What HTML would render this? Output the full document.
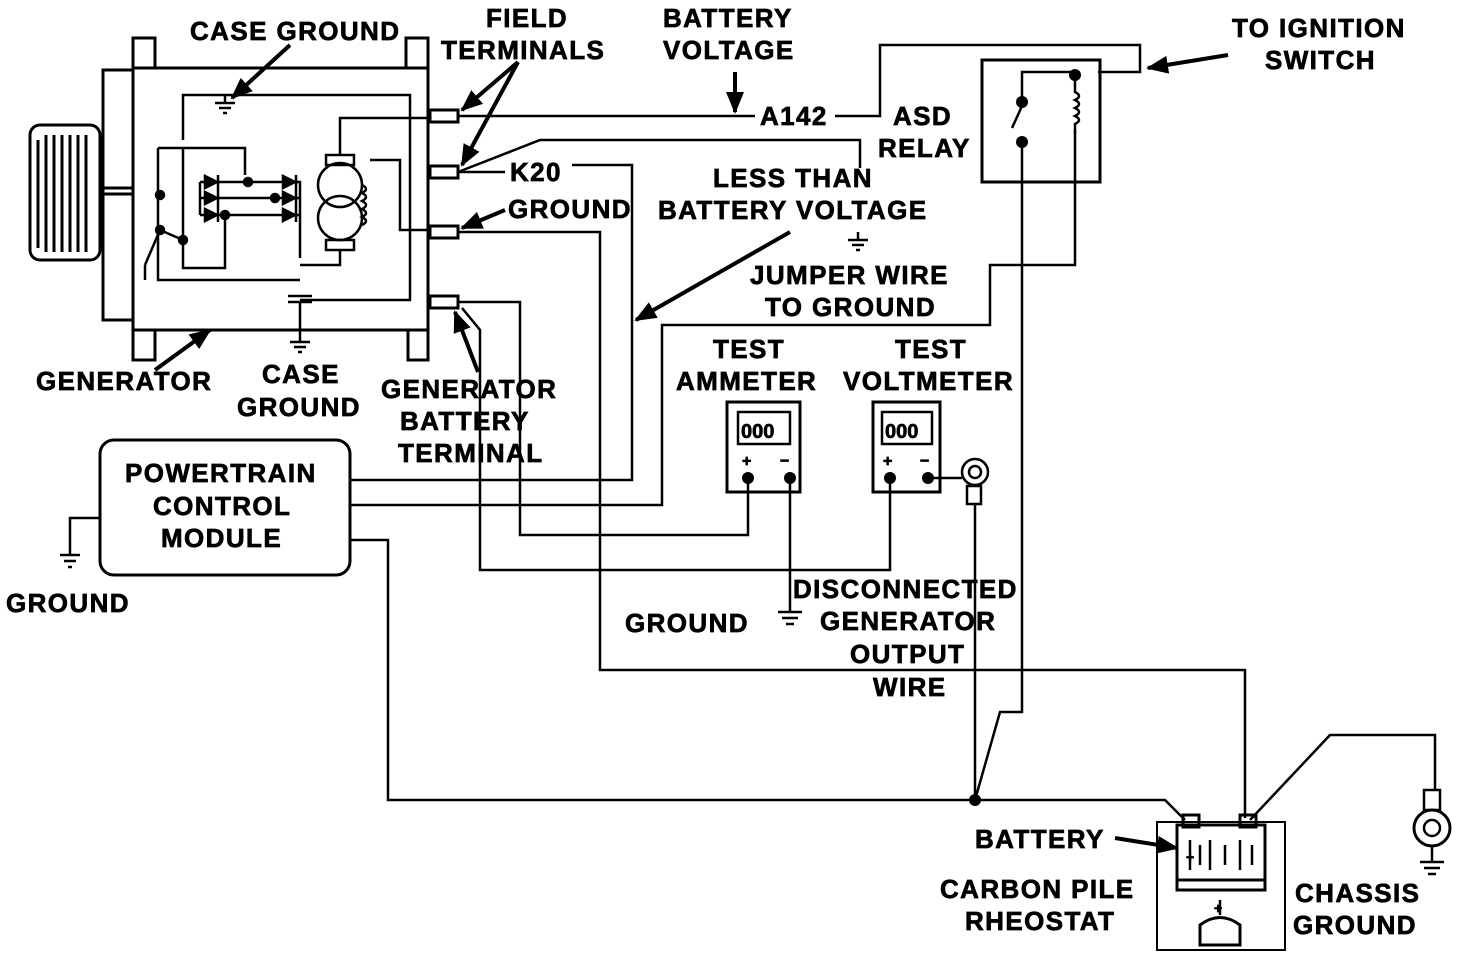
<!DOCTYPE html>
<html><head><meta charset="utf-8"><style>
html,body{margin:0;padding:0;background:#fff}
svg{display:block}
text{font-family:"Liberation Sans",sans-serif;font-weight:bold;font-size:26px;fill:#000;letter-spacing:1.4px;stroke:#000;stroke-width:0.7px}
</style></head><body>
<svg width="1472" height="958" viewBox="0 0 1472 958" xmlns="http://www.w3.org/2000/svg">
<defs>
<marker id="ab" markerWidth="22" markerHeight="18" refX="20" refY="9" orient="auto" markerUnits="userSpaceOnUse" viewBox="0 0 22 18">
<path d="M0,0 L22,9 L0,18 z" fill="#000"/></marker>
</defs>
<g fill="none" stroke="#000" stroke-width="2.5">
<rect x="30" y="125" width="70" height="135" rx="10" stroke-width="3"/>
<g stroke-width="3">
<line x1="38" y1="140" x2="38" y2="248"/><line x1="46" y1="135" x2="46" y2="252"/><line x1="54" y1="135" x2="54" y2="252"/><line x1="62" y1="135" x2="62" y2="252"/><line x1="70" y1="135" x2="70" y2="252"/><line x1="78" y1="135" x2="78" y2="252"/><line x1="86" y1="135" x2="86" y2="252"/>
</g>
<line x1="100" y1="188" x2="133" y2="188" stroke-width="3"/>
<line x1="100" y1="194" x2="133" y2="194" stroke-width="3"/>
<rect x="103" y="70" width="30" height="250" stroke-width="3"/>
<rect x="133" y="68" width="295" height="262" stroke-width="3"/>
<rect x="133" y="38" width="22" height="30" stroke-width="3"/>
<rect x="406" y="38" width="22" height="30" stroke-width="3"/>
<rect x="133" y="330" width="22" height="30" stroke-width="3"/>
<rect x="408" y="330" width="20" height="30" stroke-width="3"/>
<polyline points="183,140 183,95 410,95 410,300 300,300"/>
<polyline points="158,148 158,225 158,280 300,280"/>
<polyline points="158,148 245,148 245,175"/>
<polyline points="183,148 183,268 225,268 225,215"/>
<polyline points="200,182 300,182 300,258"/>
<polyline points="200,198 300,198"/>
<polyline points="200,215 300,215"/>
<polyline points="200,182 200,215"/>
<line x1="145" y1="265" x2="160" y2="230"/>
<line x1="160" y1="230" x2="183" y2="240"/>
<line x1="145" y1="265" x2="145" y2="280"/>
<circle cx="160" cy="230" r="4" fill="#000"/>
<circle cx="183" cy="240" r="4" fill="#000"/>
<circle cx="160" cy="195" r="4" fill="#000"/>
<circle cx="248" cy="182" r="4" fill="#000"/><circle cx="275" cy="198" r="4" fill="#000"/><circle cx="225" cy="215" r="4" fill="#000"/>
<g fill="#000">
<path d="M205,176 L217,182 L205,188 z"/><path d="M205,192 L217,198 L205,204 z"/><path d="M205,209 L217,215 L205,221 z"/>
<path d="M283,176 L295,182 L283,188 z"/><path d="M283,192 L295,198 L283,204 z"/><path d="M283,209 L295,215 L283,221 z"/>
</g>
<line x1="218" y1="175" x2="218" y2="222" /><line x1="296" y1="175" x2="296" y2="222"/>
<circle cx="340" cy="185" r="22"/><circle cx="340" cy="218" r="22"/>
<rect x="326" y="155" width="28" height="10"/><rect x="326" y="240" width="28" height="10"/>
<path d="M362,185 q8,4 0,8 q8,4 0,8 q8,4 0,8 q8,4 0,8 q8,4 0,8"/>
<polyline points="340,155 340,118 430,118"/>
<polyline points="370,160 400,160 400,230 430,230"/>
<polyline points="340,250 340,265 300,265"/>
<line x1="288" y1="296" x2="312" y2="296"/><line x1="288" y1="302" x2="312" y2="302"/>
<line x1="300" y1="302" x2="300" y2="342"/>
<line x1="290" y1="342" x2="310" y2="342"/><line x1="294" y1="347" x2="306" y2="347"/><line x1="298" y1="352" x2="302" y2="352"/>
<polyline points="225,95 225,103"/><line x1="215" y1="103" x2="235" y2="103"/><line x1="219" y1="108" x2="231" y2="108"/><line x1="223" y1="113" x2="227" y2="113"/>
<rect x="430" y="110" width="28" height="12" stroke-width="3"/>
<rect x="430" y="166" width="28" height="12" stroke-width="3"/>
<rect x="430" y="226" width="28" height="12" stroke-width="3"/>
<rect x="430" y="296" width="28" height="12" stroke-width="3"/>
<polyline points="458,116 755,116"/>
<polyline points="835,116 880,116 880,45 1140,45 1140,72 1098,72"/>
<polyline points="458,172 540,140 860,140 860,168"/>
<polyline points="458,172 505,172"/>
<polyline points="572,165 632,165 632,480 350,480"/>
<polyline points="458,232 600,232 600,670 1245,670 1245,818"/>
<polyline points="458,302 520,302 520,535 748,535 748,480"/>
<polyline points="462,308 480,330 480,570 890,570 890,480"/>
<polyline points="790,480 790,612"/>
<line x1="778" y1="612" x2="802" y2="612"/><line x1="782" y1="618" x2="798" y2="618"/><line x1="786" y1="624" x2="794" y2="624"/>
<polyline points="928,478 962,478"/>
<circle cx="975" cy="472" r="13"/><circle cx="975" cy="472" r="6"/>
<rect x="967" y="486" width="14" height="18"/>
<polyline points="975,504 975,800"/>
<polyline points="350,540 388,540 388,800 1165,800 1185,820"/>
<polyline points="1022,142 1022,712 1000,712 975,800"/>
<polyline points="1075,130 1075,265 990,265 990,325 662,325 662,505 350,505"/>
<polyline points="1250,820 1330,735 1435,735 1435,790"/>
<line x1="858" y1="232" x2="858" y2="240"/><line x1="848" y1="240" x2="868" y2="240"/><line x1="852" y1="245" x2="864" y2="245"/><line x1="856" y1="250" x2="860" y2="250"/>
<rect x="100" y="440" width="250" height="135" rx="14" stroke-width="3"/>
<polyline points="100,518 70,518 70,555"/>
<line x1="60" y1="555" x2="80" y2="555"/><line x1="64" y1="561" x2="76" y2="561"/><line x1="68" y1="567" x2="72" y2="567"/>
<rect x="982" y="60" width="118" height="122" stroke-width="3"/>
<polyline points="1022,100 1022,72 1075,72"/>
<line x1="1022" y1="106" x2="1012" y2="128"/>
<path d="M1075,80 v12 q8,4 0,8 q8,4 0,8 q8,4 0,8 q8,4 0,8 v10"/>
<rect x="727" y="402" width="73" height="90" stroke-width="3"/>
<rect x="738" y="412" width="52" height="32"/>
<rect x="873" y="402" width="67" height="90" stroke-width="3"/>
<rect x="882" y="412" width="50" height="32"/>
<rect x="1157" y="822" width="128" height="128" stroke-width="2"/>
<rect x="1177" y="825" width="88" height="55" stroke-width="3"/>
<rect x="1183" y="815" width="16" height="12" stroke-width="3"/><rect x="1240" y="815" width="16" height="12" stroke-width="3"/>
<path d="M1190,840 v30 M1200,845 v20 M1210,840 v30 M1225,845 v20 M1240,840 v30 M1252,845 v20"/>
<rect x="1177" y="880" width="88" height="10" stroke-width="3"/>
<path d="M1200,945 v-20 q20,-15 40,0 v20 z" stroke-width="3"/>
<line x1="1220" y1="915" x2="1220" y2="900"/>
<circle cx="1432" cy="828" r="18" stroke-width="3"/><circle cx="1432" cy="828" r="8"/>
<rect x="1424" y="790" width="16" height="20"/>
<line x1="1432" y1="846" x2="1432" y2="862"/><line x1="1420" y1="862" x2="1444" y2="862"/><line x1="1424" y1="868" x2="1440" y2="868"/><line x1="1428" y1="874" x2="1436" y2="874"/>
<g stroke-width="4">
<line x1="290" y1="45" x2="232" y2="98" marker-end="url(#ab)"/>
<line x1="518" y1="62" x2="462" y2="110" marker-end="url(#ab)"/>
<line x1="518" y1="62" x2="462" y2="165" marker-end="url(#ab)"/>
<line x1="505" y1="210" x2="462" y2="228" marker-end="url(#ab)"/>
<line x1="735" y1="72" x2="735" y2="112" marker-end="url(#ab)"/>
<line x1="790" y1="232" x2="636" y2="320" marker-end="url(#ab)"/>
<line x1="1228" y1="55" x2="1148" y2="68" marker-end="url(#ab)"/>
<line x1="155" y1="370" x2="210" y2="330" marker-end="url(#ab)"/>
<line x1="478" y1="372" x2="455" y2="312" marker-end="url(#ab)"/>
<line x1="1115" y1="838" x2="1177" y2="848" marker-end="url(#ab)"/>
</g>
</g>
<g fill="#000">
<circle cx="1022" cy="102" r="6"/><circle cx="1022" cy="142" r="6"/><circle cx="1075" cy="75" r="6"/>
<circle cx="748" cy="478" r="6"/><circle cx="790" cy="478" r="6"/>
<circle cx="890" cy="478" r="6"/><circle cx="928" cy="478" r="6"/>
<circle cx="975" cy="800" r="6"/>
</g>
<text x="190" y="40">CASE GROUND</text>
<text x="486" y="27">FIELD</text>
<text x="441" y="59">TERMINALS</text>
<text x="663" y="27">BATTERY</text>
<text x="663" y="59">VOLTAGE</text>
<text x="1232" y="37">TO IGNITION</text>
<text x="1265" y="69">SWITCH</text>
<text x="760" y="125">A142</text>
<text x="893" y="125">ASD</text>
<text x="878" y="157">RELAY</text>
<text x="510" y="181">K20</text>
<text x="713" y="187">LESS THAN</text>
<text x="658" y="219">BATTERY VOLTAGE</text>
<text x="508" y="218">GROUND</text>
<text x="750" y="284">JUMPER WIRE</text>
<text x="765" y="316">TO GROUND</text>
<text x="713" y="358">TEST</text>
<text x="676" y="390">AMMETER</text>
<text x="895" y="358">TEST</text>
<text x="843" y="390">VOLTMETER</text>
<text x="36" y="390">GENERATOR</text>
<text x="262" y="383">CASE</text>
<text x="237" y="416">GROUND</text>
<text x="381" y="398">GENERATOR</text>
<text x="400" y="430">BATTERY</text>
<text x="398" y="462">TERMINAL</text>
<text x="125" y="482">POWERTRAIN</text>
<text x="153" y="515">CONTROL</text>
<text x="161" y="547">MODULE</text>
<text x="6" y="612">GROUND</text>
<text x="625" y="632">GROUND</text>
<text x="793" y="598">DISCONNECTED</text>
<text x="820" y="630">GENERATOR</text>
<text x="850" y="663">OUTPUT</text>
<text x="873" y="696">WIRE</text>
<text x="975" y="848">BATTERY</text>
<text x="940" y="898">CARBON PILE</text>
<text x="965" y="930">RHEOSTAT</text>
<text x="1295" y="902">CHASSIS</text>
<text x="1293" y="934">GROUND</text>
<text x="741" y="438" style="font-size:20px;letter-spacing:0">000</text>
<text x="885" y="438" style="font-size:20px;letter-spacing:0">000</text>
<text x="742" y="466" style="font-size:16px">+</text><text x="780" y="466" style="font-size:16px">−</text>
<text x="883" y="466" style="font-size:16px">+</text><text x="920" y="466" style="font-size:16px">−</text>
<text x="1186" y="862" style="font-size:14px">+</text><text x="1214" y="913" style="font-size:14px">+</text>
</svg>
</body></html>
